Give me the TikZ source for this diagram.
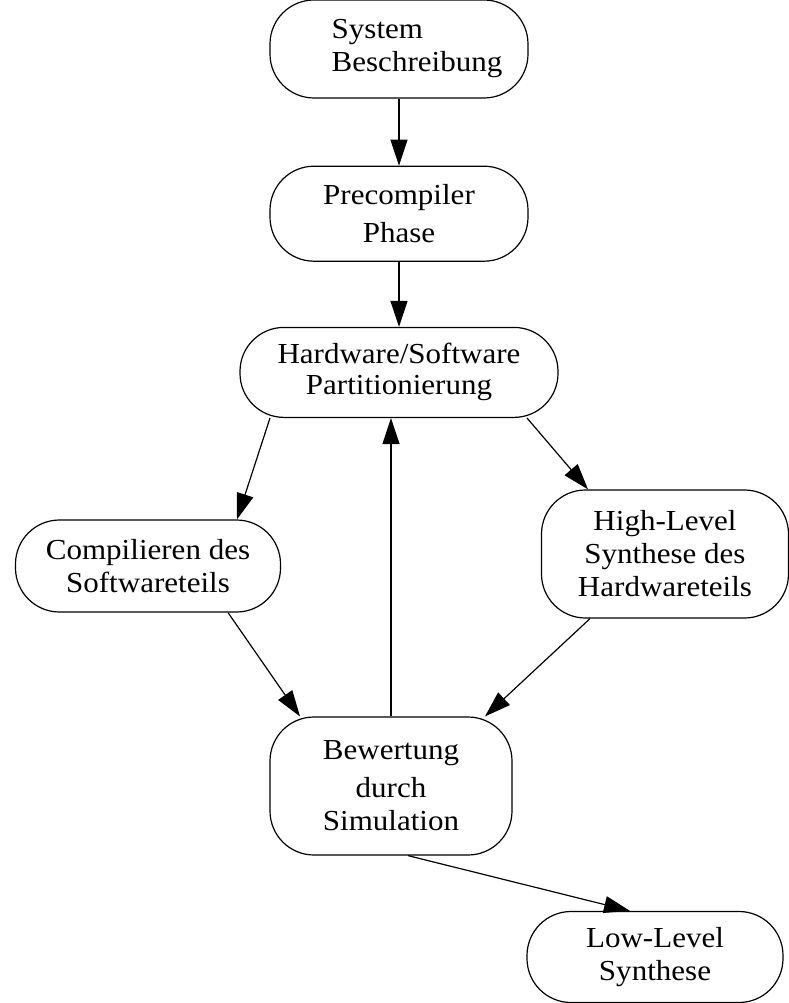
\documentclass[tikz,border=0pt]{standalone}
\usepackage{fontspec}
\setmainfont{Liberation Serif}[FakeStretch=1.07]
\usetikzlibrary{arrows.meta, positioning}

\begin{document}
\begin{tikzpicture}[x=1pt, y=-1pt, line width=1.2pt,
    font=\fontsize{29}{33}\selectfont,
    stage/.style={draw, rounded corners=44pt, inner sep=0pt, align=center},
    arr/.style={-{Triangle[length=26pt, width=17pt]}}]
  \useasboundingbox (0,0) rectangle (789,1003);
  % top chain
  \node[stage, minimum width=258pt, minimum height=98pt, align=left] (sys) at (399,49) {\hspace*{36pt}System\\\hspace*{36pt}Beschreibung};
  \node[stage, minimum width=258pt, minimum height=95pt, below=67pt of sys] (prec) {Precompiler\\[5pt]Phase};
  \node[stage, minimum width=318pt, minimum height=90pt, below=65pt of prec] (part) {Hardware/Software\\[-2pt]Partitionierung};
  % the two branches
  \node[stage, minimum width=265pt, minimum height=92pt] (sw) at (148,566) {Compilieren des\\Softwareteils};
  \node[stage, minimum width=247pt, minimum height=128pt] (hw) at (665,554) {High-Level\\Synthese des\\Hardwareteils};
  \node[stage, minimum width=242pt, minimum height=138pt] (sim) at (391,786) {Bewertung\\[5pt]durch\\Simulation};
  \node[stage, minimum width=256pt, minimum height=91pt] (low) at (655,957) {Low-Level\\Synthese};

  \draw[arr] (sys) -- (prec);
  \draw[arr] (prec) -- (part);
  \draw[arr] ([xshift=-129pt]part.south) -- ([xshift=89pt]sw.north);
  \draw[arr] ([xshift=128pt]part.south) -- ([xshift=-77pt]hw.north);
  \draw[arr] (sim.north) -- (sim.north |- part.south);
  \draw[arr] ([xshift=80pt]sw.south) -- ([xshift=-91pt]sim.north);
  \draw[arr] ([xshift=-75pt]hw.south) -- ([xshift=94pt]sim.north);
  \draw[arr] ([xshift=17pt]sim.south) -- ([xshift=-25pt]low.north);
\end{tikzpicture}
\end{document}
